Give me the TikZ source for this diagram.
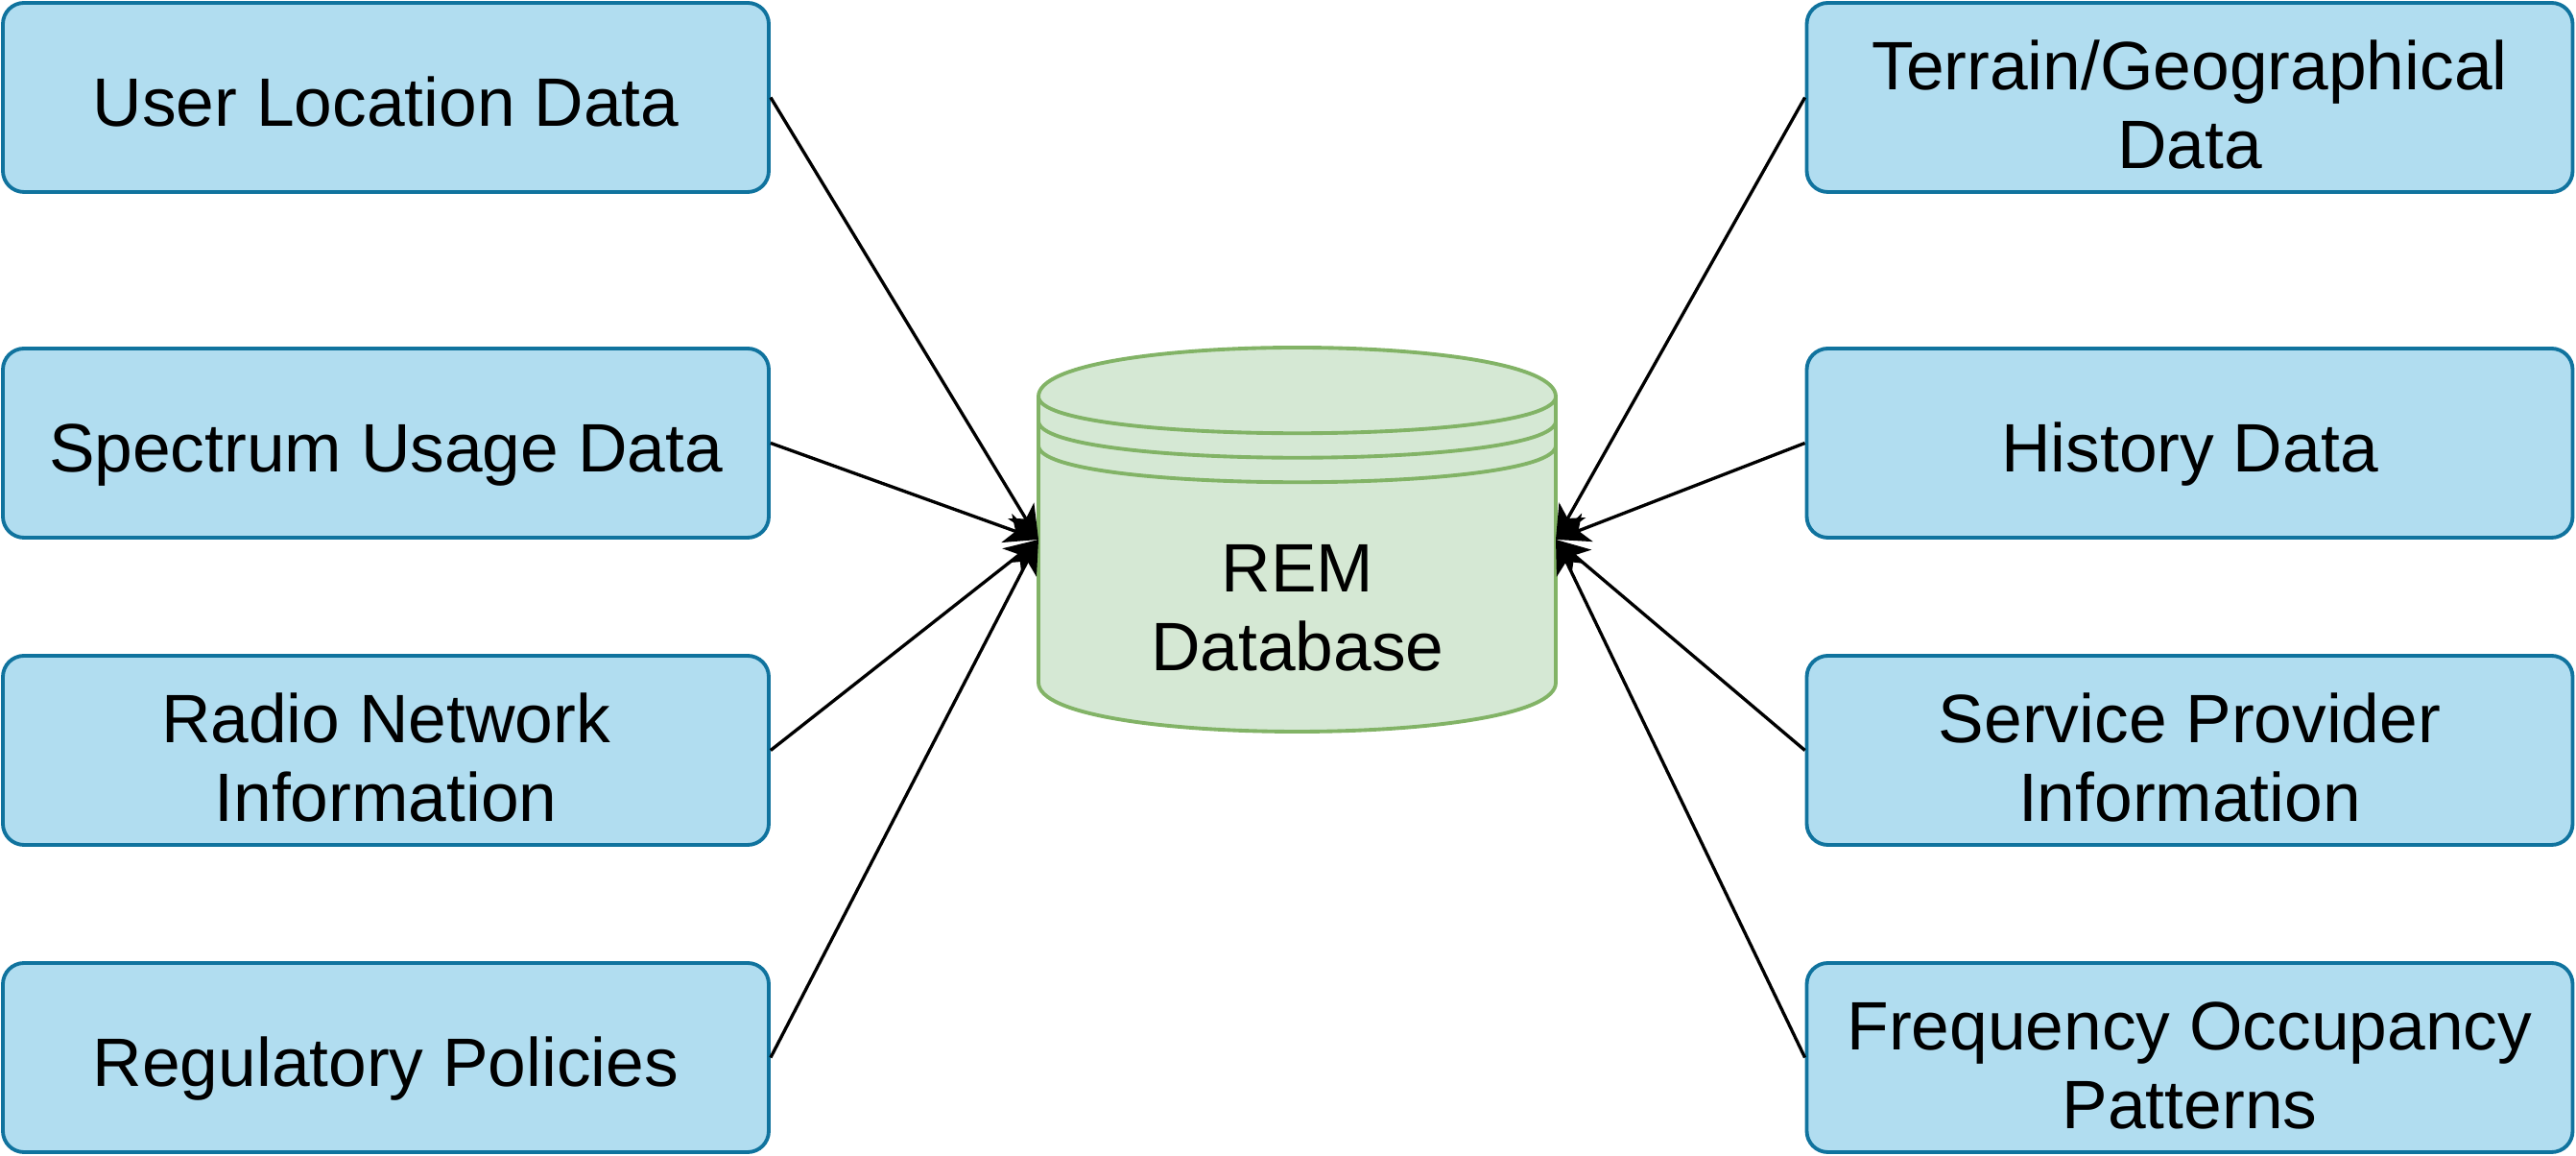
\documentclass[tikz,border=0pt]{standalone}
\usepackage{fontspec}
\setmainfont{Liberation Sans}
\usepackage{tikz}
\usetikzlibrary{positioning,calc}
\usetikzlibrary{arrows.meta}
\definecolor{SrcBlue}{HTML}{B1DDF0}
\definecolor{SrcEdge}{HTML}{10739E}
\definecolor{DbGreen}{HTML}{D5E8D4}
\definecolor{DbEdge}{HTML}{82B366}
\tikzset{
	src/.style={draw=SrcEdge,fill=SrcBlue,rounded corners=0.22cm,line width=1.1pt,
		minimum width=7.98cm,minimum height=1.97cm,align=center,inner sep=0pt,
		font=\fontsize{20.3}{23.4}\selectfont},
	oneline/.style={src,text height=0.6cm,text depth=0cm},
	twoline/.style={src,text height=1.486cm,text depth=0cm},
	dbline/.style={draw=DbEdge,line width=1.1pt},
	feed/.style={draw=black,line width=0.95pt,-{Stealth[length=10pt,width=9pt,inset=2.8pt]}},
}

\begin{document}
\begin{tikzpicture}
			\useasboundingbox (0,0) rectangle (26.84,12.04);
			% data sources
			\node[oneline] (uld) at (4.02,11.025) {User Location Data};
			\node[oneline] (sud) at (4.02,7.425) {Spectrum Usage Data};
			\node[twoline] (rni) at (4.02,4.225) {Radio Network\\Information};
			\node[oneline] (rp) at (4.02,1.025) {Regulatory Policies};
			\node[twoline] (tgd) at (22.815,11.025) {Terrain/Geographical\\Data};
			\node[oneline] (hd) at (22.815,7.425) {History Data};
			\node[twoline] (spi) at (22.815,4.225) {Service Provider\\Information};
			\node[twoline] (fop) at (22.815,1.025) {Frequency Occupancy\\Patterns};
			% database
			\fill[DbGreen] (10.82,7.91) .. controls (10.82,8.59) and (16.21,8.59) .. (16.21,7.91)
				-- (16.21,4.93) .. controls (16.21,4.25) and (10.82,4.25) .. (10.82,4.93) -- cycle;
			\draw[dbline] (10.82,7.91) .. controls (10.82,8.59) and (16.21,8.59) .. (16.21,7.91)
				-- (16.21,4.93) .. controls (16.21,4.25) and (10.82,4.25) .. (10.82,4.93) -- cycle;
			\foreach \y in {7.91,7.655,7.40}
			\draw[dbline] (10.82,\y) .. controls (10.82,{\y-0.51}) and (16.21,{\y-0.51}) .. (16.21,\y);
			\node[align=center,font=\fontsize{20.3}{23.4}\selectfont] (rem) at (13.52,5.71) {REM\\Database};
			\coordinate (remL) at (10.82,6.42);
			\coordinate (remR) at (16.21,6.42);
			\foreach \s in {uld,sud,rni,rp}
			\draw[feed] (\s.east) -- (remL);
			\foreach \s in {tgd,hd,spi,fop}
			\draw[feed] (\s.west) -- (remR);
		\end{tikzpicture}
\end{document}
